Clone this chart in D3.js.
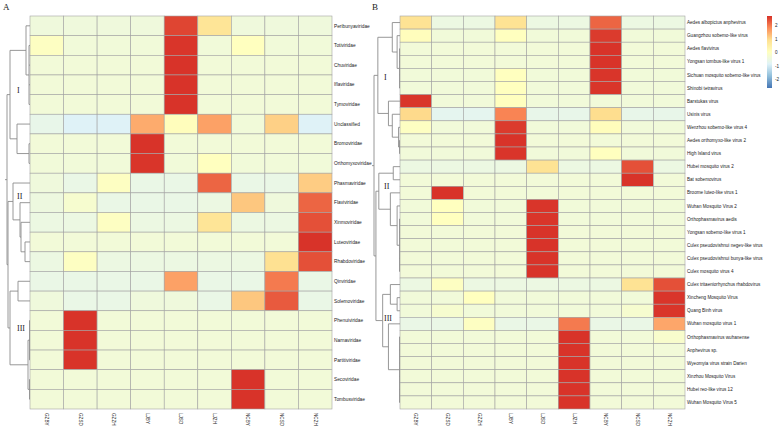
<!DOCTYPE html>
<html>
<head>
<meta charset="utf-8">
<script src="https://cdn.jsdelivr.net/npm/d3@7"></script>
<style>
  body { margin: 0; background: #fff; }
  text { font-family: "Liberation Sans", Arial, sans-serif; }
  .serif { font-family: "Liberation Serif", "Times New Roman", serif; }
</style>
</head>
<body>
<div id="chart"></div>
<script>
// sample columns (same for both panels)
var samples = ["GZBY", "GZSD", "GZZH", "LJBY", "LJSD", "LJZH", "NCBY", "NCSD", "NCZH"];

// panel A: virus families
var rowsA = ["Peribunyaviridae", "Totiviridae", "Chuviridae", "Iflaviridae", "Tymoviridae",
  "Unclassified", "Bromoviridae", "Orthomyxoviridae", "Phasmaviridae", "Flaviviridae",
  "Xinmoviridae", "Luteoviridae", "Rhabdoviridae", "Qinviridae", "Solemoviridae",
  "Phenuiviridae", "Narnaviridae", "Partitiviridae", "Secoviridae", "Tombusviridae"];
var valsA = [
  [-0.4, -0.4, -0.4, -0.4, 2.5, 0.8, -0.4, -0.4, -0.4],
  [0.0, -0.35, -0.35, -0.35, 2.65, -0.35, 0.05, -0.35, -0.35],
  [-0.33, -0.33, -0.33, -0.33, 2.67, -0.33, -0.33, -0.33, -0.33],
  [-0.33, -0.33, -0.33, -0.33, 2.67, -0.33, -0.33, -0.33, -0.33],
  [-0.33, -0.33, -0.33, -0.33, 2.67, -0.33, -0.33, -0.33, -0.33],
  [-0.6, -0.85, -0.85, 1.5, 0.1, 1.6, -0.35, 1.1, -0.85],
  [-0.33, -0.33, -0.33, 2.67, -0.33, -0.33, -0.33, -0.33, -0.33],
  [-0.35, -0.35, -0.35, 2.65, -0.35, 0.05, -0.35, -0.35, -0.35],
  [-0.4, -0.55, 0.0, -0.55, -0.55, 2.2, -0.55, -0.55, 1.15],
  [-0.45, -0.2, -0.55, -0.55, -0.55, -0.5, 1.2, -0.4, 2.2],
  [-0.5, -0.5, 0.0, -0.5, -0.5, 0.8, -0.5, -0.5, 2.4],
  [-0.33, -0.33, -0.33, -0.33, -0.33, -0.33, -0.33, -0.33, 2.67],
  [-0.5, 0.0, -0.5, -0.5, -0.5, -0.5, -0.5, 0.9, 2.4],
  [-0.55, -0.55, -0.55, -0.55, 1.6, -0.55, -0.55, 2.0, -0.55],
  [-0.4, -0.55, -0.55, -0.4, -0.4, -0.55, 1.2, 2.3, -0.55],
  [-0.33, 2.67, -0.33, -0.33, -0.33, -0.33, -0.33, -0.33, -0.33],
  [-0.33, 2.67, -0.33, -0.33, -0.33, -0.33, -0.33, -0.33, -0.33],
  [-0.33, 2.67, -0.33, -0.33, -0.33, -0.33, -0.33, -0.33, -0.33],
  [-0.33, -0.33, -0.33, -0.33, -0.33, -0.33, 2.67, -0.33, -0.33],
  [-0.33, -0.33, -0.33, -0.33, -0.33, -0.33, 2.67, -0.33, -0.33]
];
// dendrogram: [height, child, child, ...], leaves are row indices
var treeA = [23,
  [20, [4, 0, [1, 1, 2, 3, 4]], [13, 5, [1, 6, 7]]],
  [22,
    [17, 8, [10, 9, [9, 10, [5, 11, 12]]]],
    [20, [12, 13, 14], [2, [0.5, 15, 16, 17], [0.5, 18, 19]]]
  ]
];
var clustersA = [["I", 90], ["II", 196], ["III", 328]];

// panel B: viruses
var rowsB = ["Aedes albopictus anphevirus", "Guangzhou sobemo-like virus", "Aedes flavivirus",
  "Yongsan tombus-like virus 1", "Sichuan mosquito sobemo-like virus", "Shinobi tetravirus",
  "Barstukas virus", "Usinis virus", "Wenzhou sobemo-like virus 4", "Aedes orthomyxo-like virus 2",
  "High Island virus", "Hubei mosquito virus 2", "Bat sobemovirus", "Broome luteo-like virus 1",
  "Wuhan Mosquito Virus 2", "Orthophasmavirus aedis", "Yongsan sobemo-like virus 1",
  "Culex pseudovishnui negev-like virus", "Culex pseudovishnui bunya-like virus", "Culex mosquito virus 4",
  "Culex tritaeniorhynchus rhabdovirus", "Xincheng Mosquito Virus", "Quang Binh virus",
  "Wuhan mosquito virus 1", "Orthophasmavirus wuhanense", "Anphevirus sp.",
  "Wyeomyia virus strain Darien", "Xinzhou Mosquito Virus", "Hubei reo-like virus 12", "Wuhan Mosquito Virus 5"];
var valsB = [
  [0.85, -0.5, -0.5, 0.85, -0.5, -0.5, 2.2, -0.5, -0.5],
  [0.1, -0.35, -0.35, 0.05, -0.35, -0.35, 2.6, -0.35, -0.35],
  [-0.33, -0.33, -0.33, -0.33, -0.33, -0.33, 2.67, -0.33, -0.33],
  [-0.33, -0.33, -0.33, -0.33, -0.33, -0.33, 2.67, -0.33, -0.33],
  [-0.35, -0.35, -0.35, 0.05, -0.35, -0.35, 2.65, -0.35, -0.35],
  [-0.35, -0.35, -0.35, 0.05, -0.35, -0.35, 2.65, -0.35, -0.35],
  [2.65, -0.35, -0.35, 0.05, -0.35, -0.35, -0.35, -0.35, -0.35],
  [1.0, -0.7, -0.7, 1.9, -0.6, -0.6, 0.95, -0.6, -0.6],
  [0.0, -0.35, -0.35, 2.6, -0.35, -0.35, 0.1, -0.35, -0.35],
  [-0.33, -0.33, -0.33, 2.67, -0.33, -0.33, -0.33, -0.33, -0.33],
  [-0.35, -0.35, -0.35, 2.65, -0.35, -0.35, 0.05, -0.35, -0.35],
  [-0.5, -0.5, -0.5, -0.5, 0.85, -0.5, -0.5, 2.4, -0.5],
  [-0.33, -0.33, -0.33, -0.33, -0.33, -0.33, -0.33, 2.67, -0.33],
  [-0.33, 2.67, -0.33, -0.33, -0.33, -0.33, -0.33, -0.33, -0.33],
  [-0.35, 0.05, -0.35, -0.35, 2.65, -0.35, -0.35, -0.35, -0.35],
  [-0.35, 0.05, -0.35, -0.35, 2.65, -0.35, -0.35, -0.35, -0.35],
  [-0.33, -0.33, -0.33, -0.33, 2.67, -0.33, -0.33, -0.33, -0.33],
  [-0.33, -0.33, -0.33, -0.33, 2.67, -0.33, -0.33, -0.33, -0.33],
  [-0.33, -0.33, -0.33, -0.33, 2.67, -0.33, -0.33, -0.33, -0.33],
  [-0.33, -0.33, -0.33, -0.33, 2.67, -0.33, -0.33, -0.33, -0.33],
  [-0.5, 0.0, -0.5, -0.5, -0.5, -0.5, -0.5, 0.85, 2.4],
  [-0.35, -0.35, 0.05, -0.35, -0.35, -0.35, -0.35, -0.35, 2.65],
  [-0.35, -0.2, -0.35, -0.35, -0.35, -0.35, -0.35, -0.2, 2.65],
  [-0.55, -0.55, 0.0, -0.55, -0.55, 2.0, -0.55, -0.55, 1.55],
  [-0.33, -0.33, -0.33, -0.33, -0.33, 2.67, -0.33, -0.33, -0.15],
  [-0.33, -0.33, -0.33, -0.33, -0.33, 2.67, -0.33, -0.33, -0.33],
  [-0.33, -0.33, -0.33, -0.33, -0.33, 2.67, -0.33, -0.33, -0.33],
  [-0.33, -0.33, -0.33, -0.33, -0.33, 2.67, -0.33, -0.33, -0.33],
  [-0.33, -0.33, -0.33, -0.33, -0.33, 2.67, -0.33, -0.33, -0.33],
  [-0.33, -0.33, -0.33, -0.33, -0.33, 2.67, -0.33, -0.33, -0.33]
];
var treeB = [27,
  [23, [8, 0, [3, 1, [0.5, 2, 3, 4, 5]]], [12, 6, [8, 7, [1.5, 8, [0.5, 9, 10]]]]],
  [25,
    [22, [7, 11, 12], [10, 13, [3, 14, [0.5, 15, 16, 17, 18, 19]]]],
    [18, [10, 20, [3, 21, 22]], [12, 23, [0.5, 24, 25, 26, 27, 28, 29]]]
  ]
];
var clustersB = [["I", 77], ["II", 186], ["III", 318]];

var legendTicks = [2, 1, 0, -1, -2];
var palette = ["#4575B4", "#91BFDB", "#E0F3F8", "#FFFFBF", "#FEE090", "#FC8D59", "#D73027"];
var vmin = -2.6, vmax = 2.7;

var W = 780, H = 427;
var svg = d3.select("#chart").append("svg")
  .attr("width", W).attr("height", H)
  .style("display", "block");

var color = d3.scaleLinear()
  .domain(palette.map(function (c, i) { return vmin + i * (vmax - vmin) / (palette.length - 1); }))
  .range(palette)
  .clamp(true);

function drawPanel(opt) {
  var g = svg.append("g");
  var x = d3.scaleBand().domain(samples).range([opt.left, opt.right]);
  var y = d3.scaleBand().domain(d3.range(opt.rows.length)).range([opt.top, opt.bottom]);

  // cells
  opt.vals.forEach(function (row, i) {
    g.selectAll(null)
      .data(row)
      .enter()
      .append("rect")
      .attr("x", function (d, j) { return x(samples[j]); })
      .attr("y", y(i))
      .attr("width", x.bandwidth())
      .attr("height", y.bandwidth())
      .attr("fill", function (d) { return color(d); })
      .attr("stroke", "#a3a3a3")
      .attr("stroke-width", 0.6);
  });

  // row labels
  g.selectAll(".rlab")
    .data(opt.rows)
    .enter()
    .append("text")
    .attr("x", opt.right + 2)
    .attr("y", function (d, i) { return y(i) + y.bandwidth() / 2; })
    .attr("dy", "0.35em")
    .style("font-size", opt.labelSize + "px")
    .attr("fill", "#222")
    .text(function (d) { return d; });

  // column labels, rotated
  g.selectAll(".clab")
    .data(samples)
    .enter()
    .append("text")
    .attr("transform", function (d) {
      return "translate(" + (x(d) + x.bandwidth() / 2) + "," + (opt.bottom + 4) + ") rotate(90)";
    })
    .attr("dy", "0.35em")
    .style("font-size", "4.6px")
    .attr("fill", "#222")
    .text(function (d) { return d; });

  // dendrogram
  var hx = d3.scaleLinear().domain([0, opt.tree[0]]).range([opt.left, opt.dendLeft]);
  var dg = g.append("g")
    .attr("fill", "none")
    .attr("stroke", "#8c8c8c")
    .attr("stroke-width", 0.9);

  function layout(node) {
    if (typeof node === "number") {
      return { h: 0, y: y(node) + y.bandwidth() / 2 };
    }
    var kids = node.slice(1).map(layout);
    var ys = kids.map(function (k) { return k.y; });
    var top = d3.min(ys), bot = d3.max(ys);
    dg.append("line")
      .attr("x1", hx(node[0])).attr("x2", hx(node[0]))
      .attr("y1", top).attr("y2", bot);
    kids.forEach(function (k) {
      dg.append("line")
        .attr("x1", hx(node[0])).attr("x2", hx(k.h))
        .attr("y1", k.y).attr("y2", k.y);
    });
    return { h: node[0], y: (top + bot) / 2 };
  }
  var root = layout(opt.tree);
  dg.append("line")
    .attr("x1", hx(opt.tree[0])).attr("x2", hx(opt.tree[0]) - 2)
    .attr("y1", root.y).attr("y2", root.y);

  // cluster names
  g.selectAll(".clus")
    .data(opt.clusters)
    .enter()
    .append("text")
    .attr("class", "serif")
    .attr("x", opt.dendLeft + 10)
    .attr("y", function (d) { return d[1]; })
    .attr("dy", "0.35em")
    .style("font-size", "8px")
    .attr("fill", "#222")
    .text(function (d) { return d[0]; });

  // panel letter
  g.append("text")
    .attr("class", "serif")
    .attr("x", opt.letterX)
    .attr("y", 10)
    .style("font-size", "9px")
    .attr("fill", "#222")
    .text(opt.letter);
}

drawPanel({
  letter: "A", letterX: 3, rows: rowsA, vals: valsA, tree: treeA, clusters: clustersA,
  left: 30, right: 332, top: 16, bottom: 409, dendLeft: 7, labelSize: 4.8
});
drawPanel({
  letter: "B", letterX: 372, rows: rowsB, vals: valsB, tree: treeB, clusters: clustersB,
  left: 400, right: 685, top: 16, bottom: 409, dendLeft: 374, labelSize: 4.6
});

// colour legend
var ly = d3.scaleLinear().domain([vmin, vmax]).range([88, 16]);
var defs = svg.append("defs");
var grad = defs.append("linearGradient")
  .attr("id", "lg")
  .attr("x1", 0).attr("y1", 1).attr("x2", 0).attr("y2", 0);
palette.forEach(function (c, i) {
  grad.append("stop")
    .attr("offset", (i / (palette.length - 1) * 100) + "%")
    .attr("stop-color", c);
});
svg.append("rect")
  .attr("x", 767).attr("y", ly(vmax))
  .attr("width", 5).attr("height", ly(vmin) - ly(vmax))
  .attr("fill", "url(#lg)");
svg.append("g")
  .selectAll("text")
  .data(legendTicks)
  .enter()
  .append("text")
  .attr("x", 775)
  .attr("y", function (d) { return ly(d); })
  .attr("dy", "0.35em")
  .style("font-size", "4.6px")
  .attr("fill", "#222")
  .text(function (d) { return d; });
</script>
</body>
</html>
